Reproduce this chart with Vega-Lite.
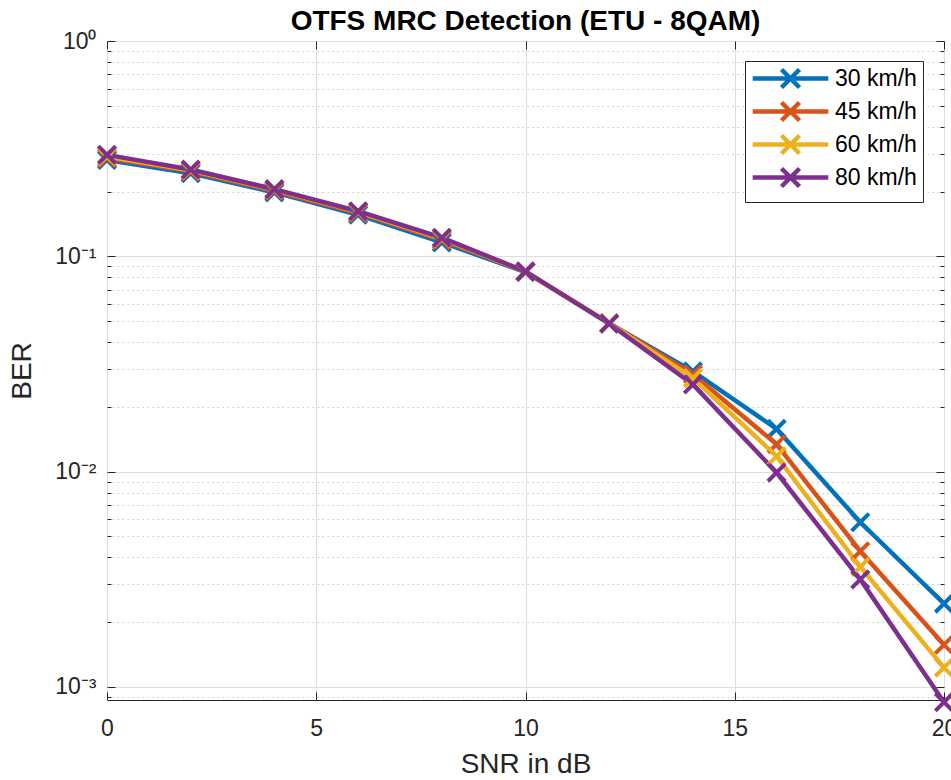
{
  "$schema": "https://vega.github.io/schema/vega-lite/v6.json",
  "width": 837,
  "height": 659,
  "autosize": {"type": "none"},
  "padding": {"left": 107, "top": 41, "right": 7, "bottom": 80},
  "background": "white",
  "config": {"view": {"stroke": "#262626", "strokeWidth": 1}, "font": "Liberation Sans"},
  "title": {"text": "OTFS MRC Detection (ETU - 8QAM)", "fontSize": 28, "fontWeight": "bold", "font": "Liberation Sans", "color": "#000000", "anchor": "middle", "offset": -6},
  "data": {"values": [
    {"snr": 0, "speed": "30 km/h", "ber": 0.280}, {"snr": 2, "speed": "30 km/h", "ber": 0.243}, {"snr": 4, "speed": "30 km/h", "ber": 0.198}, {"snr": 6, "speed": "30 km/h", "ber": 0.156}, {"snr": 8, "speed": "30 km/h", "ber": 0.116}, {"snr": 10, "speed": "30 km/h", "ber": 0.0845}, {"snr": 12, "speed": "30 km/h", "ber": 0.0488}, {"snr": 14, "speed": "30 km/h", "ber": 0.0292}, {"snr": 16, "speed": "30 km/h", "ber": 0.0158}, {"snr": 18, "speed": "30 km/h", "ber": 0.00582}, {"snr": 20, "speed": "30 km/h", "ber": 0.00244},
    {"snr": 0, "speed": "45 km/h", "ber": 0.286}, {"snr": 2, "speed": "45 km/h", "ber": 0.248}, {"snr": 4, "speed": "45 km/h", "ber": 0.201}, {"snr": 6, "speed": "45 km/h", "ber": 0.159}, {"snr": 8, "speed": "45 km/h", "ber": 0.119}, {"snr": 10, "speed": "45 km/h", "ber": 0.0848}, {"snr": 12, "speed": "45 km/h", "ber": 0.0489}, {"snr": 14, "speed": "45 km/h", "ber": 0.0283}, {"snr": 16, "speed": "45 km/h", "ber": 0.0134}, {"snr": 18, "speed": "45 km/h", "ber": 0.00427}, {"snr": 20, "speed": "45 km/h", "ber": 0.00157},
    {"snr": 0, "speed": "60 km/h", "ber": 0.291}, {"snr": 2, "speed": "60 km/h", "ber": 0.251}, {"snr": 4, "speed": "60 km/h", "ber": 0.204}, {"snr": 6, "speed": "60 km/h", "ber": 0.161}, {"snr": 8, "speed": "60 km/h", "ber": 0.121}, {"snr": 10, "speed": "60 km/h", "ber": 0.085}, {"snr": 12, "speed": "60 km/h", "ber": 0.0488}, {"snr": 14, "speed": "60 km/h", "ber": 0.0272}, {"snr": 16, "speed": "60 km/h", "ber": 0.0118}, {"snr": 18, "speed": "60 km/h", "ber": 0.00361}, {"snr": 20, "speed": "60 km/h", "ber": 0.00123},
    {"snr": 0, "speed": "80 km/h", "ber": 0.296}, {"snr": 2, "speed": "80 km/h", "ber": 0.253}, {"snr": 4, "speed": "80 km/h", "ber": 0.205}, {"snr": 6, "speed": "80 km/h", "ber": 0.162}, {"snr": 8, "speed": "80 km/h", "ber": 0.122}, {"snr": 10, "speed": "80 km/h", "ber": 0.0851}, {"snr": 12, "speed": "80 km/h", "ber": 0.0487}, {"snr": 14, "speed": "80 km/h", "ber": 0.0254}, {"snr": 16, "speed": "80 km/h", "ber": 0.0099}, {"snr": 18, "speed": "80 km/h", "ber": 0.00316}, {"snr": 20, "speed": "80 km/h", "ber": 0.00085}
  ]},
  "layer": [
    {
      "mark": {"type": "line", "strokeWidth": 4.5, "clip": false, "point": {"shape": "M-1,-1L1,1M-1,1L1,-1", "filled": false, "size": 300, "strokeWidth": 4}},
      "encoding": {
        "x": {"field": "snr", "type": "quantitative", "scale": {"domain": [0, 20], "nice": false, "zero": false},
          "axis": {"title": "SNR in dB", "titleFontSize": 28, "titleFont": "Liberation Sans", "titleFontWeight": "normal", "titleColor": "#262626", "titlePadding": 10,
            "values": [0, 5, 10, 15, 20], "labelFontSize": 23, "labelFont": "Liberation Sans", "labelColor": "#262626", "labelPadding": 25, "labelFlush": false, "labelBound": false,
            "domain": false, "tickColor": "#262626", "tickSize": -8, "grid": true, "gridColor": "#dedede"}},
        "y": {"field": "ber", "type": "quantitative", "scale": {"type": "log", "domain": [0.00087, 1], "nice": false},
          "axis": {"title": "BER", "titleFontSize": 28, "titleFont": "Liberation Sans", "titleFontWeight": "normal", "titleColor": "#262626", "titlePadding": 18,
            "values": [1, 0.9, 0.8, 0.7, 0.6, 0.5, 0.4, 0.3, 0.2, 0.1, 0.09, 0.08, 0.07, 0.06, 0.05, 0.04, 0.03, 0.02, 0.01, 0.009, 0.008, 0.007, 0.006, 0.005, 0.004, 0.003, 0.002, 0.001, 0.0009],
            "labelExpr": "datum.value == 1 ? '10⁰' : datum.value == 0.1 ? '10⁻¹' : datum.value == 0.01 ? '10⁻²' : datum.value == 0.001 ? '10⁻³' : ''",
            "labelFontSize": 23, "labelFont": "Liberation Sans", "labelColor": "#262626", "labelPadding": 19, "labelOverlap": false, "labelFlush": false, "labelBound": false,
            "domain": false, "tickColor": "#262626",
            "tickSize": {"condition": {"test": "datum.value == 1 || datum.value == 0.1 || datum.value == 0.01 || datum.value == 0.001", "value": -8}, "value": -4},
            "grid": true,
            "gridColor": {"condition": {"test": "datum.value == 1 || datum.value == 0.1 || datum.value == 0.01 || datum.value == 0.001", "value": "#dedede"}, "value": "#c8c8c8"},
            "gridDash": {"condition": {"test": "datum.value == 1 || datum.value == 0.1 || datum.value == 0.01 || datum.value == 0.001", "value": []}, "value": [1.5, 3.5]}}},
        "color": {"field": "speed", "type": "nominal",
          "scale": {"domain": ["30 km/h", "45 km/h", "60 km/h", "80 km/h"], "range": ["#0072BD", "#D95319", "#EDB120", "#7E2F8E"]},
          "legend": {"title": null, "orient": "none", "legendX": 638, "legendY": 20, "strokeColor": "#262626", "fillColor": "white", "padding": 6,
            "labelFontSize": 23, "labelFont": "Liberation Sans", "labelColor": "#000000", "labelLimit": 300,
            "symbolType": "M-4.2,0L4.2,0M-1,-1L1,1M-1,1L1,-1", "symbolSize": 324, "symbolStrokeWidth": 4.5, "symbolFillColor": "transparent",
            "rowPadding": -4, "symbolOffset": 28, "labelOffset": 33}}
      }
    },
    {
      "mark": {"type": "point", "opacity": 0},
      "encoding": {
        "x": {"field": "snr", "type": "quantitative",
          "axis": {"orient": "top", "values": [0, 5, 10, 15, 20], "labels": false, "title": null, "grid": false, "domain": false, "tickColor": "#262626", "tickSize": -8}},
        "y": {"field": "ber", "type": "quantitative",
          "axis": {"orient": "right", "values": [1, 0.9, 0.8, 0.7, 0.6, 0.5, 0.4, 0.3, 0.2, 0.1, 0.09, 0.08, 0.07, 0.06, 0.05, 0.04, 0.03, 0.02, 0.01, 0.009, 0.008, 0.007, 0.006, 0.005, 0.004, 0.003, 0.002, 0.001, 0.0009],
            "labels": false, "title": null, "grid": false, "domain": false, "tickColor": "#262626",
            "tickSize": {"condition": {"test": "datum.value == 1 || datum.value == 0.1 || datum.value == 0.01 || datum.value == 0.001", "value": -8}, "value": -4}}}
      }
    }
  ],
  "resolve": {"axis": {"x": "independent", "y": "independent"}}
}
